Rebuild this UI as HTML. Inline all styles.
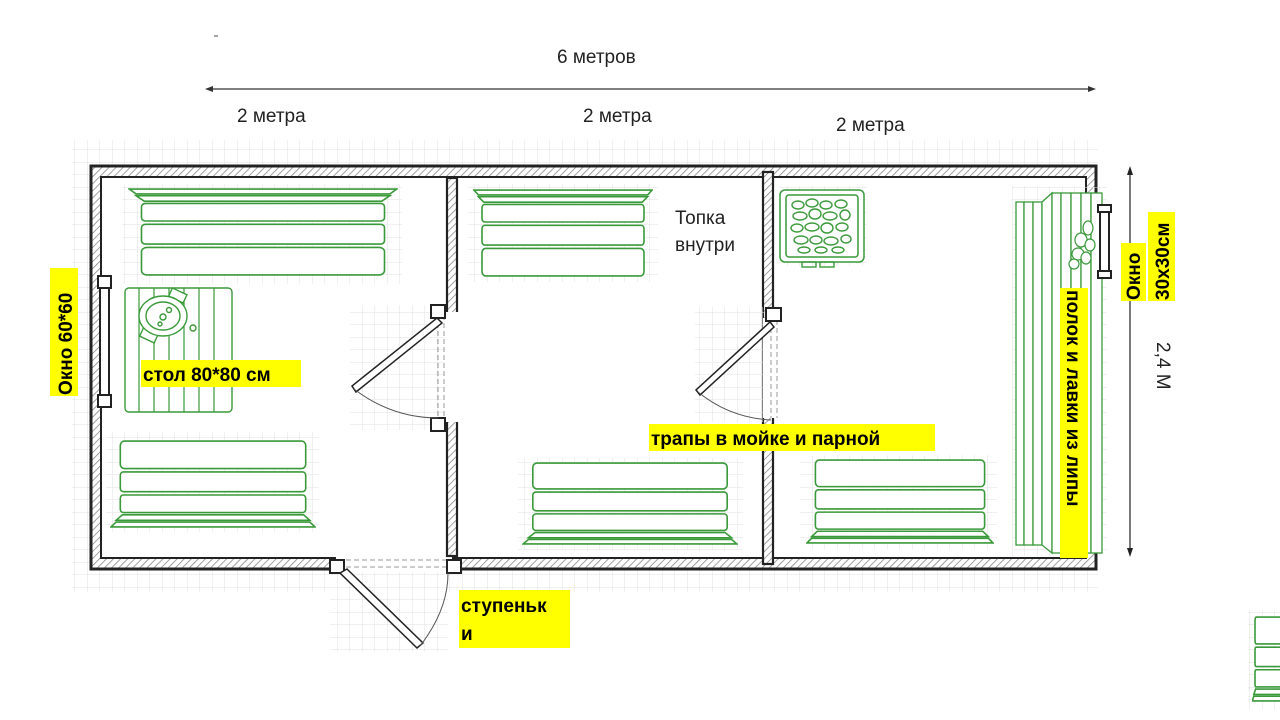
<!DOCTYPE html>
<html><head><meta charset="utf-8"><style>
html,body{margin:0;padding:0;background:#fff;}
svg{display:block;}
text{font-family:"Liberation Sans",sans-serif;}
</style></head><body>
<svg width="1280" height="720" viewBox="0 0 1280 720" xmlns="http://www.w3.org/2000/svg">
<defs>
<pattern id="grid" width="12.5" height="12.5" patternUnits="userSpaceOnUse">
<path d="M12.5 0V12.5H0" fill="none" stroke="#e0e0e0" stroke-width="1"/>
</pattern>
<pattern id="hatch" width="5" height="5" patternUnits="userSpaceOnUse" patternTransform="rotate(45)">
<rect width="5" height="5" fill="#fff"/><line x1="0" y1="0" x2="0" y2="5" stroke="#888" stroke-width="1.6"/>
</pattern>
<symbol id="bb" viewBox="0 0 100 40" preserveAspectRatio="none">
<g fill="#fff" stroke="#3a9a3a" stroke-width="1.6">
<rect x="5" y="0.5" width="90" height="12.5" rx="2" vector-effect="non-scaling-stroke"/>
<rect x="5" y="14.5" width="90" height="9" rx="1.5" vector-effect="non-scaling-stroke"/>
<rect x="5" y="25" width="90" height="8" rx="1.5" vector-effect="non-scaling-stroke"/>
<path d="M6 34H94L97 36.5H3Z" vector-effect="non-scaling-stroke"/>
<path d="M3 37.3H97L99.5 39.5H0.5Z" vector-effect="non-scaling-stroke"/>
</g>
</symbol>
<symbol id="bt" viewBox="0 0 100 40" preserveAspectRatio="none">
<g transform="translate(0,40) scale(1,-1)"><use href="#bb" width="100" height="40"/></g>
</symbol>
</defs>

<rect x="72" y="140" width="1026" height="452" fill="url(#grid)"/>
<rect x="330" y="560" width="118" height="92" fill="url(#grid)"/>
<rect x="1248" y="610" width="32" height="100" fill="url(#grid)"/>

<rect x="91" y="166" width="1005" height="403" fill="url(#hatch)" stroke="#222" stroke-width="3"/>
<rect x="101" y="177" width="985" height="381" fill="#fff" stroke="#222" stroke-width="2"/>
<rect x="336" y="556" width="116" height="16" fill="#fff"/>
<line x1="338" y1="560" x2="450" y2="560" stroke="#999" stroke-dasharray="5,3"/>
<line x1="338" y1="567" x2="450" y2="567" stroke="#999" stroke-dasharray="5,3"/>
<rect x="330" y="560" width="14" height="13" fill="#fff" stroke="#222" stroke-width="2"/>
<rect x="447" y="560" width="14" height="13" fill="#fff" stroke="#222" stroke-width="2"/>
<polygon points="340,573 347,569 423,643 417,648" fill="#fff" stroke="#222" stroke-width="1.5"/>
<path d="M420,646 Q448,610 448,573" fill="none" stroke="#555" stroke-width="1"/>

<rect x="447" y="178" width="10" height="378" fill="url(#hatch)" stroke="#222" stroke-width="2.2"/>
<rect x="350" y="305" width="96" height="125" fill="url(#grid)"/>
<rect x="444" y="312" width="16" height="110" fill="#fff"/>
<line x1="444" y1="315" x2="444" y2="420" stroke="#999" stroke-dasharray="5,3"/>
<line x1="438" y1="315" x2="438" y2="420" stroke="#999" stroke-dasharray="5,3"/>
<rect x="431" y="305" width="14" height="13" fill="#fff" stroke="#222" stroke-width="2"/>
<rect x="431" y="418" width="14" height="13" fill="#fff" stroke="#222" stroke-width="2"/>
<polygon points="437,318 442,323 356,392 352,386" fill="#fff" stroke="#222" stroke-width="1.5"/>
<path d="M354,389 Q392,418 438,418" fill="none" stroke="#555" stroke-width="1"/>

<rect x="763" y="172" width="10" height="392" fill="url(#hatch)" stroke="#222" stroke-width="2.2"/>
<rect x="695" y="307" width="74" height="115" fill="url(#grid)"/>
<rect x="763" y="318" width="14" height="100" fill="#fff"/>
<line x1="771" y1="320" x2="771" y2="418" stroke="#999" stroke-dasharray="5,3"/>
<line x1="777" y1="320" x2="777" y2="418" stroke="#999" stroke-dasharray="5,3"/>
<rect x="766" y="308" width="15" height="13" fill="#fff" stroke="#222" stroke-width="2"/>
<polygon points="770,322 774,327 700,395 696,390" fill="#fff" stroke="#222" stroke-width="1.5"/>
<path d="M698,392 Q730,418 771,420" fill="none" stroke="#555" stroke-width="1"/>

<rect x="122" y="184" width="280" height="100" fill="url(#grid)"/>
<use href="#bt" x="128" y="188" width="270" height="88"/>
<rect x="468" y="184" width="190" height="98" fill="url(#grid)"/>
<use href="#bt" x="473" y="189" width="180" height="88"/>
<rect x="106" y="432" width="213" height="100" fill="url(#grid)"/>
<use href="#bb" x="110" y="440" width="206" height="88"/>
<rect x="518" y="458" width="225" height="92" fill="url(#grid)"/>
<use href="#bb" x="522" y="462" width="216" height="83"/>
<rect x="800" y="455" width="197" height="94" fill="url(#grid)"/>
<use href="#bb" x="806" y="459" width="188" height="85"/>
<rect x="1250" y="612" width="30" height="95" fill="url(#grid)"/>
<use href="#bb" x="1252" y="616" width="60" height="86"/>

<rect x="125" y="288" width="107" height="124" rx="4" fill="#fff" stroke="#3a9a3a" stroke-width="1.4"/>
<g stroke="#3a9a3a" stroke-width="1.2">
<line x1="139" y1="288" x2="139" y2="412"/><line x1="154" y1="288" x2="154" y2="412"/>
<line x1="169" y1="288" x2="169" y2="412"/><line x1="184" y1="288" x2="184" y2="412"/>
<line x1="199" y1="288" x2="199" y2="412"/><line x1="214" y1="288" x2="214" y2="412"/>
</g>
<g fill="#fff" stroke="#3a9a3a" stroke-width="1.4">
<rect x="170" y="291" width="16" height="9" transform="rotate(25 178 295)"/>
<rect x="141" y="331" width="16" height="9" transform="rotate(25 149 335)"/>
<ellipse cx="163" cy="316" rx="24" ry="20"/>
<ellipse cx="163" cy="316" rx="17" ry="14"/>
<circle cx="169" cy="310" r="2.5"/><circle cx="163" cy="317" r="3"/><circle cx="160" cy="324" r="2"/>
<circle cx="193" cy="328" r="3"/>
</g>

<rect x="779" y="186" width="88" height="80" fill="url(#grid)"/>
<rect x="780" y="190" width="84" height="72" rx="5" fill="#fff" stroke="#3a9a3a" stroke-width="1.5"/>
<rect x="786" y="195" width="72" height="62" rx="3" fill="none" stroke="#3a9a3a" stroke-width="1.5"/>
<g fill="none" stroke="#3a9a3a" stroke-width="1.4">
<ellipse cx="798" cy="205" rx="6" ry="4"/><ellipse cx="812" cy="203" rx="6" ry="4"/><ellipse cx="826" cy="205" rx="6" ry="4"/><ellipse cx="841" cy="204" rx="6" ry="4"/>
<ellipse cx="800" cy="216" rx="7" ry="4"/><ellipse cx="815" cy="214" rx="6" ry="5"/><ellipse cx="830" cy="216" rx="7" ry="4"/><ellipse cx="845" cy="215" rx="5" ry="5"/>
<ellipse cx="797" cy="228" rx="6" ry="4"/><ellipse cx="812" cy="227" rx="7" ry="4"/><ellipse cx="827" cy="228" rx="6" ry="5"/><ellipse cx="842" cy="227" rx="6" ry="4"/>
<ellipse cx="801" cy="240" rx="7" ry="4"/><ellipse cx="816" cy="240" rx="6" ry="4"/><ellipse cx="831" cy="241" rx="7" ry="4"/><ellipse cx="846" cy="239" rx="5" ry="4"/>
<ellipse cx="804" cy="250" rx="6" ry="3"/><ellipse cx="821" cy="250" rx="6" ry="3"/><ellipse cx="838" cy="250" rx="6" ry="3"/>
<rect x="802" y="262" width="14" height="5"/><rect x="820" y="262" width="14" height="5"/>
</g>

<rect x="1012" y="186" width="95" height="370" fill="url(#grid)"/>
<g fill="#fff" stroke="#3a9a3a" stroke-width="1.3">
<rect x="1016" y="202" width="8" height="343"/>
<rect x="1024" y="202" width="9" height="343"/>
<rect x="1033" y="202" width="9" height="343"/>
<path d="M1042 202 L1052 193 L1052 553 L1042 545Z"/>
<rect x="1052" y="193" width="9" height="360"/>
<rect x="1061" y="193" width="10" height="360"/>
<rect x="1071" y="193" width="10" height="360"/>
<rect x="1081" y="193" width="10" height="360"/>
<rect x="1091" y="193" width="11" height="360"/>
</g>
<g fill="#fff" stroke="#3a9a3a" stroke-width="1.2">
<ellipse cx="1088" cy="228" rx="5" ry="7"/><ellipse cx="1081" cy="240" rx="6" ry="7"/><ellipse cx="1090" cy="245" rx="5" ry="6"/>
<ellipse cx="1078" cy="254" rx="6" ry="6"/><ellipse cx="1086" cy="258" rx="5" ry="6"/><ellipse cx="1074" cy="264" rx="5" ry="5"/>
</g>
<rect x="1100" y="207" width="9" height="70" fill="#fff" stroke="#222" stroke-width="2"/>
<rect x="1098" y="205" width="13" height="7" fill="#fff" stroke="#222" stroke-width="2"/>
<rect x="1098" y="271" width="13" height="7" fill="#fff" stroke="#222" stroke-width="2"/>
<rect x="100" y="282" width="9" height="120" fill="#fff" stroke="#222" stroke-width="2"/>
<rect x="98" y="276" width="13" height="12" fill="#fff" stroke="#222" stroke-width="2"/>
<rect x="98" y="395" width="13" height="12" fill="#fff" stroke="#222" stroke-width="2"/>

<line x1="208" y1="89" x2="1093" y2="89" stroke="#333" stroke-width="1.2"/>
<polygon points="205,89 213,86 213,92" fill="#333"/>
<polygon points="1096,89 1088,86 1088,92" fill="#333"/>
<line x1="1130" y1="170" x2="1130" y2="553" stroke="#222" stroke-width="1.2"/>
<polygon points="1130,166 1127,175 1133,175" fill="#222"/>
<polygon points="1130,557 1127,548 1133,548" fill="#222"/>
<line x1="214" y1="36" x2="218" y2="36" stroke="#444"/>

<g font-size="19" fill="#222">
<text x="557" y="63">6 метров</text>
<text x="237" y="122">2 метра</text>
<text x="583" y="122">2  метра</text>
<text x="836" y="131">2 метра</text>
<text x="675" y="224">Топка</text>
<text x="675" y="251">внутри</text>
<text transform="translate(1157,342) rotate(90)">2,4 М</text>
</g>
<g font-size="19" font-weight="bold" fill="#000">
<rect x="141" y="360" width="160" height="27" fill="#ffff00"/>
<text x="143" y="381">стол 80*80 см</text>
<rect x="649" y="424" width="286" height="27" fill="#ffff00"/>
<text x="651" y="445">трапы в мойке и парной</text>
<rect x="459" y="590" width="111" height="58" fill="#ffff00"/>
<text x="461" y="612">ступеньк</text>
<text x="461" y="640">и</text>
<rect x="50" y="268" width="28" height="128" fill="#ffff00"/>
<text transform="translate(72,395) rotate(-90)">Окно 60*60</text>
<rect x="1121" y="243" width="25" height="58" fill="#ffff00"/>
<text transform="translate(1140,300) rotate(-90)">Окно</text>
<rect x="1148" y="212" width="27" height="89" fill="#ffff00"/>
<text transform="translate(1169,300) rotate(-90)">30x30см</text>
<rect x="1060" y="288" width="28" height="270" fill="#ffff00"/>
<text transform="translate(1067,290) rotate(90)">полок и лавки из липы</text>
</g>
</svg>
</body></html>
